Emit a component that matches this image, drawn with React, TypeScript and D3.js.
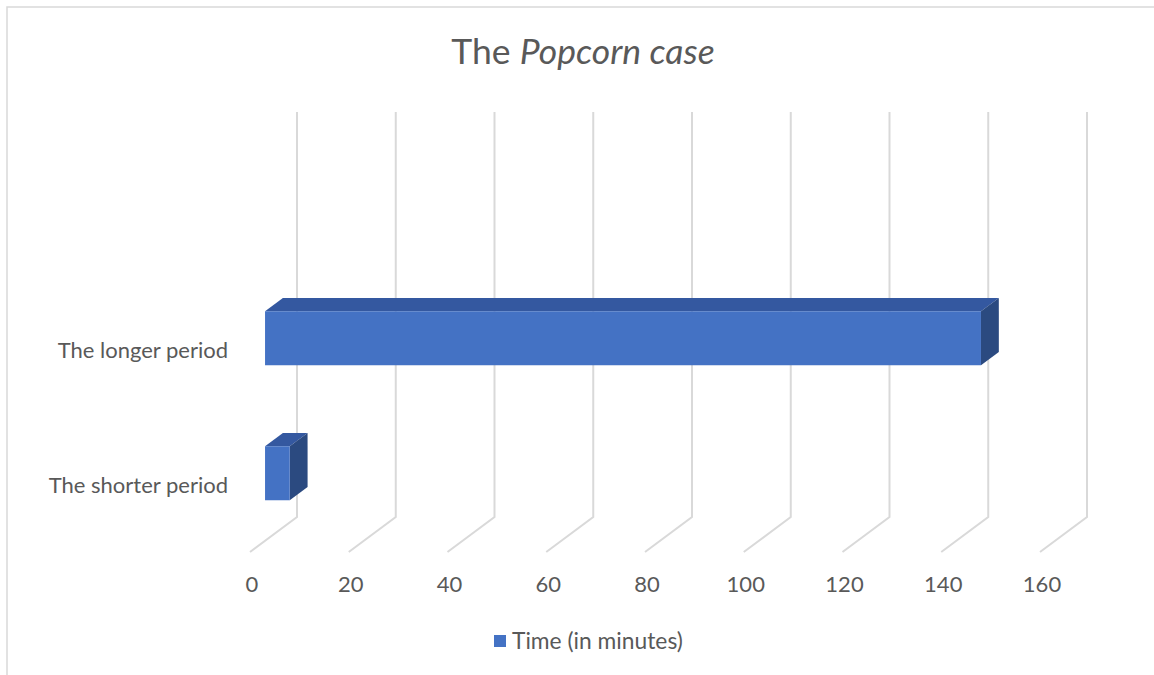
import * as d3 from 'd3'

const categories = ['The shorter period', 'The longer period']
const values = [5, 145]
const xTicks = [0, 20, 40, 60, 80, 100, 120, 140, 160]
const seriesName = 'Time (in minutes)'

const W = 1154
const H = 675
const FONT = 'Lato, "Open Sans", sans-serif'

// back wall geometry, the floor runs toward the viewer by (DX, DY)
const wall = { left: 297, right: 1087, top: 112, bottom: 517 }
const DX = -47
const DY = 35
// bar depth, as fractions of floor depth (0 = back wall, 1 = front edge)
const barBack = 0.3
const barFront = 0.68

const colors = {
  front: '#4472C4',
  top: '#3458A0',
  side: '#2B4A80',
  grid: '#D9D9D9',
  text: '#595959',
}

export default function App() {
  const x = d3.scaleLinear().domain([0, 160]).range([wall.left, wall.right])
  const y = d3
    .scaleBand<string>()
    .domain(categories)
    .range([wall.bottom, wall.bottom - 270])
    .paddingInner(0.6)
    .paddingOuter(0.3)

  const shift = (f: number) => [DX * f, DY * f]
  const [fx, fy] = shift(barFront)
  const [bx, by] = shift(barBack)
  const bw = y.bandwidth()

  const poly = (p: number[][]) => 'M' + p.map((q) => q.join(',')).join('L') + 'Z'

  return (
    <svg
      width={W}
      height={H}
      style={{ position: 'absolute', left: 0, top: 0, background: '#fff' }}
    >
      <path d={`M7,${H} V7 H${W}`} fill="none" stroke={colors.grid} strokeWidth={1.5} />

      <text
        x={583}
        y={64}
        textAnchor="middle"
        fontFamily={FONT}
        fontSize={35.5}
        fill={colors.text}
      >
        The <tspan fontStyle="italic">Popcorn case</tspan>
      </text>

      {/* gridlines: back wall verticals + floor diagonals */}
      <g fill="none" stroke={colors.grid} strokeWidth={2}>
        {xTicks.map((t) => (
          <path
            key={t}
            d={`M${x(t)},${wall.top} V${wall.bottom} l${DX},${DY}`}
          />
        ))}
      </g>

      {/* bars */}
      {categories.map((c, i) => {
        const y0 = y(c) as number
        const x0 = x(0)
        const x1 = x(values[i])
        const front = [
          [x0 + fx, y0 + fy],
          [x1 + fx, y0 + fy],
          [x1 + fx, y0 + bw + fy],
          [x0 + fx, y0 + bw + fy],
        ]
        const top = [
          [x0 + fx, y0 + fy],
          [x0 + bx, y0 + by],
          [x1 + bx, y0 + by],
          [x1 + fx, y0 + fy],
        ]
        const side = [
          [x1 + fx, y0 + fy],
          [x1 + bx, y0 + by],
          [x1 + bx, y0 + bw + by],
          [x1 + fx, y0 + bw + fy],
        ]
        return (
          <g key={c}>
            <path d={poly(top)} fill={colors.top} />
            <path d={poly(side)} fill={colors.side} />
            <path d={poly(front)} fill={colors.front} />
          </g>
        )
      })}

      {/* category labels at the front plane */}
      {categories.map((c) => (
        <text
          key={c}
          x={228}
          y={(y(c) as number) + bw / 2 + DY + 1}
          dy="0.35em"
          textAnchor="end"
          fontFamily={FONT}
          fontSize={22}
          fill={colors.text}
        >
          {c}
        </text>
      ))}

      {/* value axis labels at the front edge */}
      {xTicks.map((t) => (
        <text
          key={t}
          x={x(t) + DX + 2}
          y={584}
          dy="0.35em"
          textAnchor="middle"
          fontFamily={FONT}
          fontSize={22}
          fill={colors.text}
        >
          {t}
        </text>
      ))}

      {/* legend */}
      <rect x={494} y={635} width={12} height={12} fill={colors.front} />
      <text
        x={512}
        y={641}
        dy="0.35em"
        fontFamily={FONT}
        fontSize={22.8}
        fill={colors.text}
      >
        {seriesName}
      </text>
    </svg>
  )
}
